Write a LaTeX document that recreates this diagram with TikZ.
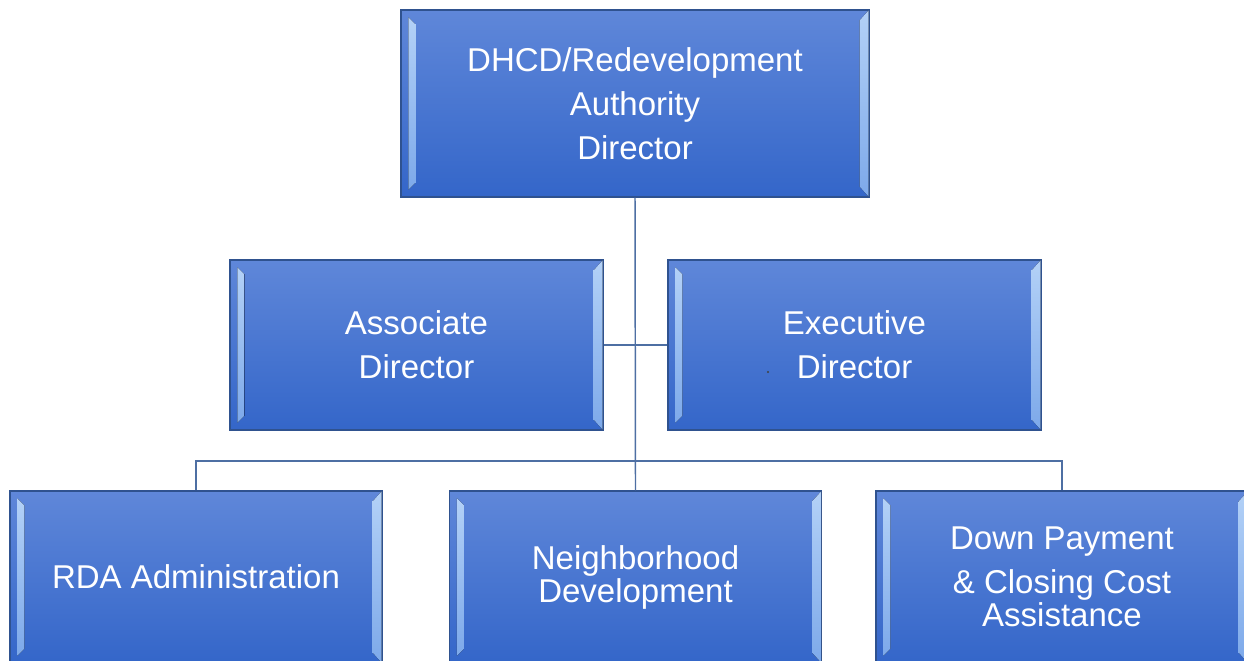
\documentclass[tikz,border=0pt]{standalone}
\usepackage{fontspec}
\setmainfont{Liberation Sans}
\usetikzlibrary{calc}
\definecolor{facetop}{HTML}{5F87D9}
\definecolor{facebot}{HTML}{3466C9}
\definecolor{edgeblue}{HTML}{2F528F}
\definecolor{bevtop}{HTML}{B3D1F7}
\definecolor{bevbot}{HTML}{7DA9EA}
\definecolor{linkblue}{HTML}{4E6FA3}
\tikzset{
  orgbox/.style={draw=edgeblue, line width=0.8pt, top color=facetop, bottom color=facebot,
    text=white, align=center, inner sep=0pt,
    font=\fontsize{24.75}{33}\selectfont},
  topsize/.style={minimum width=351pt, minimum height=140.25pt},
  midsize/.style={minimum width=279.75pt, minimum height=127.5pt},
  botsize/.style={minimum width=279pt, minimum height=129pt},
  bevel/.style={top color=bevtop, bottom color=bevbot},
  link/.style={draw=linkblue, line width=1.1pt}
}
\newcommand{\bevelbox}[1]{%
  \fill[bevel] ($(#1.north west)+(8,8)$) -- ($(#1.north west)+(15,15)$) --
    ($(#1.south west)+(15,-15)$) -- ($(#1.south west)+(8,-8)$) -- cycle;
  \fill[bevel] ($(#1.north east)+(-1,1)$) -- ($(#1.north east)+(-10,11)$) --
    ($(#1.south east)+(-10,-11)$) -- ($(#1.south east)+(-1,-1)$) -- cycle;
}
\begin{document}
\begin{tikzpicture}[x=0.75pt,y=-0.75pt]
\useasboundingbox (0,0) rectangle (1244,660);
\clip (0,0) rectangle (1244,660);
\fill[white] (0,0) rectangle (1244,660);
\coordinate (bus) at (635,461);
\node[orgbox, topsize] (top) at (635,103.5) {DHCD/Redevelopment\\Authority\\Director};
\node[orgbox, midsize] (assoc) at (416.5,345) {Associate\\Director};
\node[orgbox, midsize] (exec) at (854.5,345) {Executive\\Director};
\node[orgbox, botsize] (rda) at (196,577) {RDA Administration};
\node[orgbox, botsize] (neigh) at (635.5,577) {Neighborhood\\[-8.25pt]Development};
\node[orgbox, botsize] (dp) at (1062,577) {Down Payment\\\&{} Closing Cost\\[-8.25pt]Assistance};
\bevelbox{top}
\bevelbox{assoc}
\bevelbox{exec}
\bevelbox{rda}
\bevelbox{neigh}
\bevelbox{dp}
\draw[link] (top.south) -- (neigh.north);
\draw[link] (assoc.east) -- (exec.west);
\draw[link] (rda.north) |- (bus) -| (dp.north);
\fill[black!75] (768,372) circle (1.1);
\end{tikzpicture}
\end{document}
